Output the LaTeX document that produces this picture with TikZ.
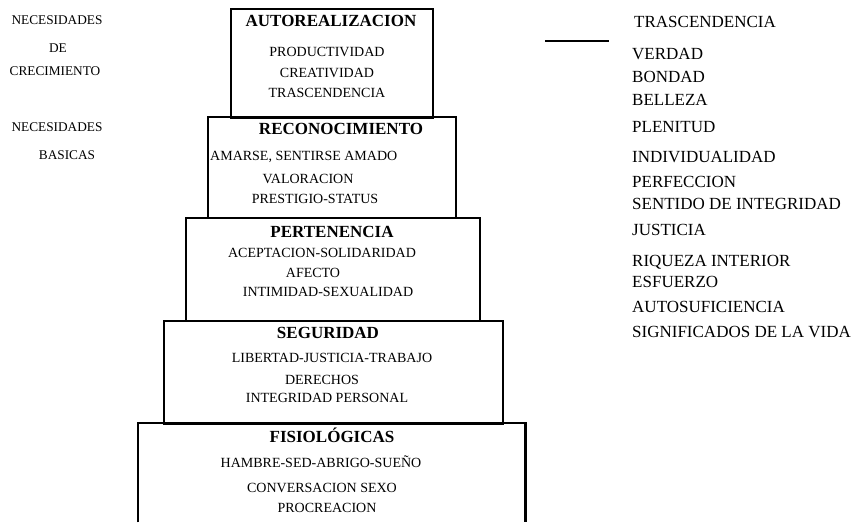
\documentclass[tikz,border=0pt]{standalone}
\usepackage{fontspec}
\setmainfont{Liberation Serif}
\begin{document}
\begin{tikzpicture}[x=1pt,y=-1pt,
  boxstyle/.style={draw,line width=2.2pt,rectangle,inner sep=0pt,anchor=north west},
  openbox/.style={rectangle,inner sep=0pt,anchor=north west},
  edge/.style={line width=2.2pt},
  ttl/.style={font=\fontsize{17}{19}\selectfont\bfseries,inner sep=0pt,anchor=base},
  body/.style={font=\fontsize{14}{16}\selectfont,inner sep=0pt,anchor=base},
  bodyw/.style={font=\fontsize{14}{16}\selectfont,inner sep=0pt,anchor=base west},
  side/.style={font=\fontsize{13.3}{15}\selectfont,inner sep=0pt,anchor=base},
  rlist/.style={font=\fontsize{17}{19}\selectfont,inner sep=0pt,anchor=base west},
  rule/.style={line width=2.6pt}]
\useasboundingbox (0,0) rectangle (856,522);

% left labels
\node[side] (n1) at (57,24.4) {NECESIDADES};
\node[side] (n2) at (58,52.4) {DE};
\node[side] (n3) at (55,75.4) {CRECIMIENTO};
\node[side] (n4) at (57,131.4) {NECESIDADES};
\node[side] (n5) at (67,159.4) {BASICAS};

% boxes
\node[boxstyle,minimum width=202pt,minimum height=109pt] (b1) at (230,8) {};
\node[boxstyle,minimum width=248pt,minimum height=101pt] (b2) at (207,116) {};
\node[boxstyle,minimum width=294pt,minimum height=103pt] (b3) at (185,217) {};
\node[boxstyle,minimum width=339pt,minimum height=103pt] (b4) at (163,320) {};
\node[openbox,minimum width=387pt,minimum height=99pt] (b5) at (138,423) {};
\draw[edge] (b5.south west) -- (b5.north west) -- (b5.north east) -- (b5.south east);

% box 1
\node[ttl] (t1) at (331,26.7) {AUTOREALIZACION};
\node[body] (t1a) at (327,56.6) {PRODUCTIVIDAD};
\node[body] (t1b) at (327,77.6) {CREATIVIDAD};
\node[body] (t1c) at (327,97.6) {TRASCENDENCIA};

% box 2
\node[ttl] (t2) at (341,134.7) {RECONOCIMIENTO};
\node[bodyw] (t2a) at (210,160.6) {AMARSE, SENTIRSE AMADO};
\node[body] (t2b) at (308,183.6) {VALORACION};
\node[body] (t2c) at (315,203.6) {PRESTIGIO-STATUS};

% box 3
\node[ttl] (t3) at (332,237.7) {PERTENENCIA};
\node[body] (t3a) at (322,257.6) {ACEPTACION-SOLIDARIDAD};
\node[body] (t3b) at (313,277.6) {AFECTO};
\node[body] (t3c) at (328,296.6) {INTIMIDAD-SEXUALIDAD};

% box 4
\node[ttl] (t4) at (328,338.7) {SEGURIDAD};
\node[body] (t4a) at (332,362.6) {LIBERTAD-JUSTICIA-TRABAJO};
\node[body] (t4b) at (322,384.6) {DERECHOS};
\node[body] (t4c) at (327,402.6) {INTEGRIDAD PERSONAL};

% box 5
\node[ttl] (t5) at (332,442.7) {FISIOLÓGICAS};
\node[body] (t5a) at (321,467.6) {HAMBRE-SED-ABRIGO-SUEÑO};
\node[body] (t5b) at (322,492.6) {CONVERSACION SEXO};
\node[body] (t5c) at (327,512.6) {PROCREACION};

% right column
\coordinate (r1) at (545,41);
\coordinate (r2) at (609,41);
\draw[rule] (r1) -- (r2);
\node[rlist] (p0) at (634,27.6) {TRASCENDENCIA};
\node[rlist] (p1) at (632,59.6) {VERDAD};
\node[rlist] (p2) at (632,82.6) {BONDAD};
\node[rlist] (p3) at (632,105.6) {BELLEZA};
\node[rlist] (p4) at (632,132.6) {PLENITUD};
\node[rlist] (p5) at (632,162.6) {INDIVIDUALIDAD};
\node[rlist] (p6) at (632,187.6) {PERFECCION};
\node[rlist] (p7) at (632,209.6) {SENTIDO DE INTEGRIDAD};
\node[rlist] (p8) at (632,235.6) {JUSTICIA};
\node[rlist] (p9) at (632,266.6) {RIQUEZA INTERIOR};
\node[rlist] (p10) at (632,287.6) {ESFUERZO};
\node[rlist] (p11) at (632,312.6) {AUTOSUFICIENCIA};
\node[rlist] (p12) at (632,337.6) {SIGNIFICADOS DE LA VIDA};
\end{tikzpicture}
\end{document}
